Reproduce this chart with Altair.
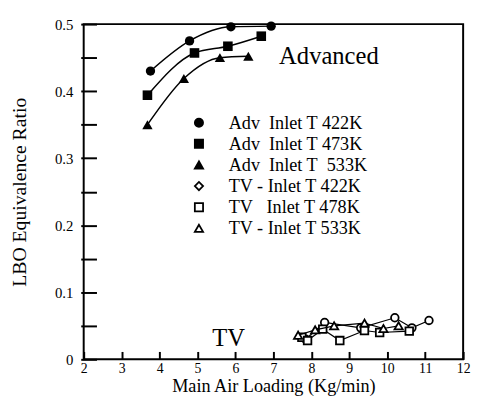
import altair as alt
import pandas as pd

FONT = "Liberation Serif"

# ---- data ----
adv422_x = [3.76, 4.79, 5.88, 6.94]
adv422_y = [0.430, 0.475, 0.496, 0.497]
adv473_x = [3.68, 4.92, 5.80, 6.68]
adv473_y = [0.394, 0.457, 0.467, 0.482]
adv533_x = [3.68, 4.64, 5.59, 6.34]
adv533_y = [0.350, 0.419, 0.450, 0.452]

tv422_x = [7.85, 8.35, 9.30, 10.20, 10.65, 11.10]
tv422_y = [0.030, 0.055, 0.047, 0.062, 0.047, 0.058]
tv478_x = [7.75, 7.90, 8.30, 8.75, 9.40, 9.80, 10.58]
tv478_y = [0.033, 0.028, 0.045, 0.028, 0.043, 0.040, 0.042]
tv533_x = [7.65, 8.10, 8.60, 9.40, 9.90, 10.30]
tv533_y = [0.036, 0.044, 0.050, 0.054, 0.046, 0.050]

legend_labels = [
    "Adv\u00a0 Inlet T 422K",
    "Adv\u00a0 Inlet T 473K",
    "Adv\u00a0 Inlet T\u00a0 533K",
    "TV - Inlet T 422K",
    "TV\u00a0\u00a0 Inlet T 478K",
    "TV - Inlet T 533K",
]
legend_shapes = ["circle", "square", "triangle-up", "diamond", "square", "triangle-up"]
legend_fills = ["black", "black", "black", "white", "white", "white"]
legend_strokes = ["black"] * 6

note_text = ["Advanced", "TV"]
note_x = [7.15, 5.39]
note_y = [0.440, 0.0205]

x_tick_values = [2, 3, 4, 5, 6, 7, 8, 9, 10, 11, 12]
y_tick_values = [0, 0.05, 0.1, 0.15, 0.2, 0.25, 0.3, 0.35, 0.4, 0.45, 0.5]

W, H = 386, 341

xs = alt.Scale(domain=[2, 12], nice=False, zero=False)
ys = alt.Scale(domain=[0, 0.5], nice=False)

def frame(xv, yv):
    return pd.DataFrame({"x": xv, "y": yv})

# Axes are shifted into the plot (negative offset) so their outward ticks point inward;
# the axis lines themselves come from the view frame.
x_axis = alt.Axis(values=x_tick_values, tickCount=11, format="d", offset=-8,
                  domain=False, ticks=True, tickSize=8, tickWidth=2, tickColor="black",
                  grid=False, labelOverlap=False, labelFlush=False,
                  labelFontSize=14, labelFont=FONT, labelColor="black", labelPadding=2,
                  title="Main Air Loading (Kg/min)", titleFont=FONT, titleFontSize=18.5,
                  titleFontWeight="normal", titleColor="black", titleY=41,
                  titleBaseline="alphabetic")
y_axis = alt.Axis(values=y_tick_values, tickCount=11, offset=-13,
                  domain=False, ticks=True, tickSize=16, tickWidth=2, tickColor="black",
                  grid=False, labelOverlap=False, labelFlush=False,
                  labelExpr="datum.value == 0 ? '0' : (round(datum.value * 100) % 10 == 0 ? format(datum.value, '.1f') : '')",
                  labelFontSize=15, labelFont=FONT, labelColor="black", labelPadding=8,
                  title="LBO Equivalence Ratio", titleFont=FONT, titleFontSize=20,
                  titleFontWeight="normal", titleColor="black", titleX=-78,
                  titleBaseline="middle")

base_x = alt.X("x:Q", scale=xs, axis=x_axis)
base_y = alt.Y("y:Q", scale=ys, axis=y_axis)

layers = []

# Advanced: smooth curves + filled markers
adv = [(adv422_x, adv422_y, "circle", 90),
       (adv473_x, adv473_y, "square", 95),
       (adv533_x, adv533_y, "triangle-up", 110)]
for xv, yv, shp, sz in adv:
    d = frame(xv, yv)
    layers.append(alt.Chart(d).mark_line(color="black", strokeWidth=1.5,
                                         interpolate="monotone").encode(x=base_x, y=base_y))
    layers.append(alt.Chart(d).mark_point(shape=shp, size=sz, filled=True, color="black",
                                          opacity=1).encode(x=base_x, y=base_y))

# TV: straight lines + open markers
tv = [(tv422_x, tv422_y, "circle", 60),
      (tv478_x, tv478_y, "square", 60),
      (tv533_x, tv533_y, "triangle-up", 70)]
for xv, yv, shp, sz in tv:
    d = frame(xv, yv)
    layers.append(alt.Chart(d).mark_line(color="black", strokeWidth=1.2).encode(x=base_x, y=base_y))
    layers.append(alt.Chart(d).mark_point(shape=shp, size=sz, filled=True, fill="white",
                                          stroke="black", strokeWidth=1.8,
                                          opacity=1).encode(x=base_x, y=base_y))

# annotations
notes = pd.DataFrame({"t": note_text, "x": note_x, "y": note_y})
layers.append(alt.Chart(notes).mark_text(font=FONT, fontSize=25, align="left",
                                         baseline="alphabetic", color="black").encode(
    x=base_x, y=base_y, text="t:N"))

# legend (empty data, explicit domain)
leg = pd.DataFrame({"s": legend_labels, "x": [5] * 6, "y": [0.2] * 6})
layers.append(alt.Chart(leg).transform_filter("false").mark_point(
    filled=True, strokeWidth=1.8, opacity=1).encode(
    x=base_x, y=base_y,
    shape=alt.Shape("s:N", scale=alt.Scale(domain=legend_labels, range=legend_shapes),
                    legend=alt.Legend(orient="none", legendX=108, legendY=91, title=None,
                                      labelFont=FONT, labelFontSize=18.5, labelColor="black",
                                      labelOffset=21, rowPadding=2.5, padding=0,
                                      symbolSize=70, symbolStrokeWidth=1.8,
                                      symbolOpacity=1, labelLimit=300)),
    fill=alt.Fill("s:N", scale=alt.Scale(domain=legend_labels, range=legend_fills)),
    stroke=alt.Stroke("s:N", scale=alt.Scale(domain=legend_labels, range=legend_strokes))))

chart = alt.layer(*layers).properties(
    width=W, height=H,
    autosize=alt.AutoSizeParams(type="none"),
    padding={"left": 77, "top": 13, "right": 8, "bottom": 40},
    background="white",
).configure(font=FONT).configure_view(stroke="black", strokeWidth=2)

chart.save("out.html", embed_options={"renderer": "svg", "actions": False})
